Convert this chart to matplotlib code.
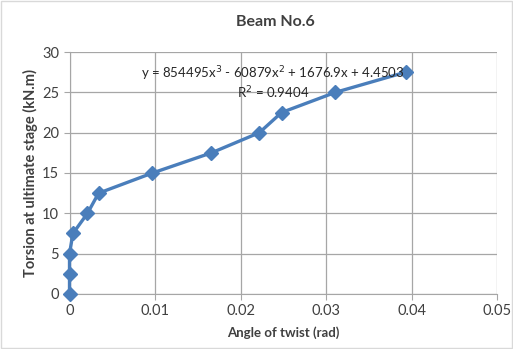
import matplotlib
matplotlib.use("Agg")
from matplotlib import pyplot as plt

# Beam No.6 data
angle = [0.0, 0.0, 0.0, 0.0004, 0.0021, 0.0034, 0.0097, 0.0166, 0.0222, 0.0248, 0.0311, 0.0393]
torsion = [0.0, 2.5, 5.0, 7.5, 10.0, 12.5, 15.0, 17.5, 20.0, 22.5, 25.0, 27.5]
xticks = [0, 0.01, 0.02, 0.03, 0.04, 0.05]
xticklabels = ["0", "0.01", "0.02", "0.03", "0.04", "0.05"]
yticks = [0, 5, 10, 15, 20, 25, 30]

plt.rcParams['font.family'] = ['Lato', 'DejaVu Sans']

fig = plt.figure(figsize=(5.13, 3.49), dpi=100)
ax = fig.add_axes([0.1355, 0.1576, 0.969 - 0.1355, 0.851 - 0.1576])

ax.plot(angle, torsion, color='#4A7EBB', lw=2.4, marker='D', markersize=7,
        markerfacecolor='#4A7EBB', markeredgecolor='#4A7EBB', clip_on=False, zorder=3)

ax.set_xlim(0, 0.05)
ax.set_ylim(0, 30)
ax.set_xticks(xticks)
ax.set_xticklabels(xticklabels)
ax.set_yticks(yticks)
ax.grid(True, color='#A6A6A6', lw=0.9)
ax.set_axisbelow(True)
for s in ['top', 'right']:
    ax.spines[s].set_visible(False)
for s in ['left', 'bottom']:
    ax.spines[s].set_color('#A6A6A6')
ax.tick_params(axis='both', colors='#A6A6A6', labelcolor='#404040', labelsize=10.5, length=4)

ax.set_xlabel("Angle of twist (rad)", fontsize=9.5, fontweight='bold', color='#404040', labelpad=6)
ax.set_ylabel("Torsion at ultimate stage (kN.m)", fontsize=10.5, fontweight='bold', color='#404040', labelpad=3)
fig.text(0.536, 0.937, "Beam No.6", ha='center', va='center', fontsize=11.5, fontweight='bold', color='#404040')

ax.text(0.0238, 27.3, "y = 854495x$^3$ - 60879x$^2$ + 1676.9x + 4.4503", ha='center', va='center',
        fontsize=9.5, color='#262626')
ax.text(0.0238, 25.0, "R$^2$ = 0.9404", ha='center', va='center', fontsize=9.5, color='#262626')

# light frame around the chart
fig.patches.append(plt.Rectangle((0.002, 0.002), 0.996, 0.996, transform=fig.transFigure,
                                 fill=False, ec='#D9D9D9', lw=1))

fig.savefig("out.png", dpi=100)
